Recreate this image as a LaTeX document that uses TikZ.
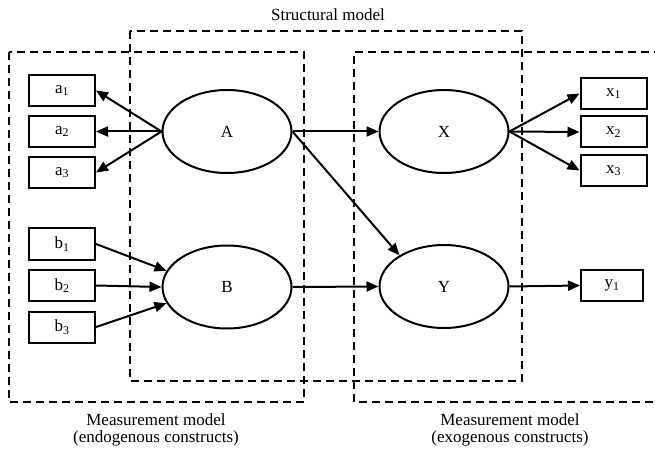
\documentclass[tikz,border=0pt]{standalone}
\usepackage{fontspec}
\setmainfont{Liberation Serif}
\usetikzlibrary{shapes.geometric,arrows.meta}
\begin{document}
\begin{tikzpicture}[x=1pt,y=-1pt,
 lat/.style={ellipse,draw,line width=2pt,minimum width=129pt,minimum height=83pt,inner sep=0pt,font=\fontsize{17}{19}\selectfont},
 ind/.style={rectangle,draw,line width=2pt,minimum width=66pt,minimum height=31pt,inner sep=0pt,font=\fontsize{17}{19}\selectfont},
 arr/.style={line width=2pt,-{Triangle[length=12pt,width=10pt]}},
 region/.style={line width=2pt,dash pattern=on 8pt off 5pt},
 lab/.style={font=\fontsize{17}{17}\selectfont,align=center}]
\useasboundingbox (0,0) rectangle (655,454);
% regions
\draw[region] (9,52) rectangle (304,402);
\draw[region] (130,31) rectangle (522,381);
\draw[region] (662,52) -- (354,52) -- (354,402) -- (662,402);
% latent variables
\node[lat] (A) at (227,131.5) {A};
\node[lat] (B) at (227,287) {B};
\node[lat] (X) at (444,131.5) {X};
\node[lat] (Y) at (444,286.5) {Y};
% indicators
\node[ind] (a1) at (62,90.5) {a\textsubscript{1}};
\node[ind] (a2) at (62,131.5) {a\textsubscript{2}};
\node[ind] (a3) at (62,172.5) {a\textsubscript{3}};
\node[ind] (b1) at (62,244) {b\textsubscript{1}};
\node[ind] (b2) at (62,285.5) {b\textsubscript{2}};
\node[ind] (b3) at (62,327) {b\textsubscript{3}};
\node[ind] (x1) at (613.5,93.5) {x\textsubscript{1}};
\node[ind] (x2) at (613.5,132) {x\textsubscript{2}};
\node[ind] (x3) at (613.5,170.5) {x\textsubscript{3}};
\node[ind,minimum width=62pt] (y1) at (612,285.5) {y\textsubscript{1}};
% arrows
\draw[arr] (A.west) -- (a1.east);
\draw[arr] (A.west) -- (a2.east);
\draw[arr] (A.west) -- (a3.east);
\draw[arr] (b1.east) -- (B.165);
\draw[arr] (b2.east) -- (B.west);
\draw[arr] (b3.east) -- (B.195);
\draw[arr] (A.east) -- (X.west);
\draw[arr] (A.east) -- (Y.145);
\draw[arr] (B.east) -- (Y.west);
\draw[arr] (X.east) -- (x1.west);
\draw[arr] (X.east) -- (x2.west);
\draw[arr] (X.east) -- (x3.west);
\draw[arr] (Y.east) -- (y1.west);
% labels
\node[lab] (ts) at (328,15) {Structural model};
\node[lab] (tl) at (156,430) {Measurement model\\(endogenous constructs)};
\node[lab] (tr) at (510,430) {Measurement model\\(exogenous constructs)};
\end{tikzpicture}
\end{document}
